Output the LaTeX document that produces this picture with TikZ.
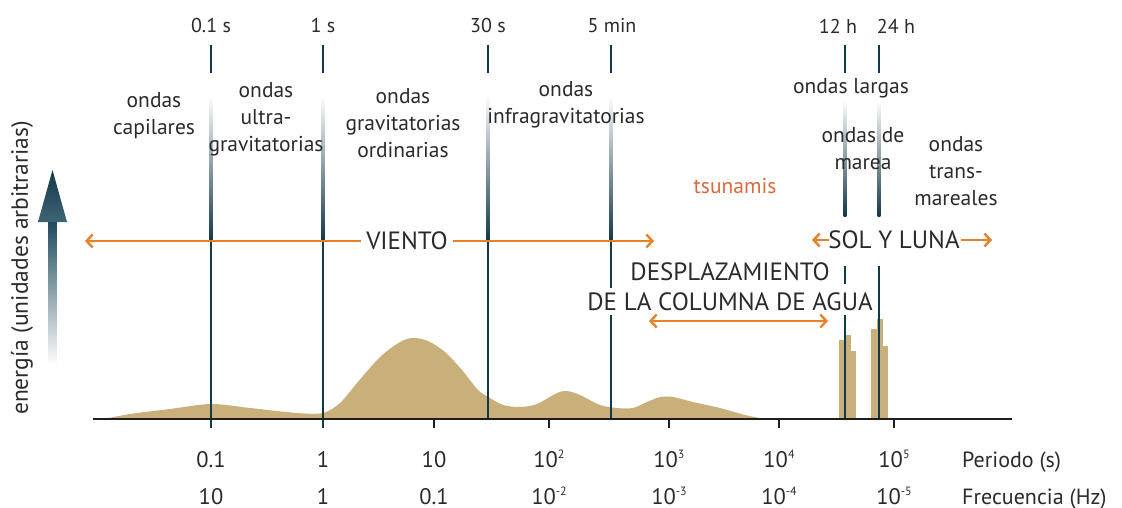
\documentclass[tikz,border=0pt]{standalone}
\usepackage{fontspec}
\setmainfont{PT Sans}
\usetikzlibrary{arrows.meta}
\definecolor{linecol}{HTML}{12394A}
\definecolor{arrcol}{HTML}{1D4A5C}
\definecolor{orng}{HTML}{E8822A}
\definecolor{tsu}{HTML}{D9693F}
\definecolor{sand}{HTML}{C9B07B}
\definecolor{axcol}{HTML}{1E1E1E}
\definecolor{txt}{HTML}{2A2A2A}
\newcommand{\pw}[1]{10\raisebox{0.75ex}{\fontsize{12}{12}\selectfont #1}}
\begin{document}
\begin{tikzpicture}[x=1pt,y=-1pt,
  vl/.style={line width=2.6pt, draw=linecol},
  ax/.style={line width=2.8pt, draw=axcol},
  tk/.style={line width=2.4pt, draw=axcol},
  oarr/.style={line width=2.4pt, draw=orng, arrows={Straight Barb[length=6pt,width=13pt]-Straight Barb[length=6pt,width=13pt]}},
  toplbl/.style={text=txt, font=\fontsize{20}{22}\selectfont, inner sep=0pt},
  wlbl/.style={text=txt, font=\fontsize{21.5}{27}\selectfont, align=center, inner sep=0pt},
  caps/.style={text=txt, font=\fontsize{25}{30}\selectfont, inner sep=0pt},
  num/.style={text=txt, font=\fontsize{22.5}{24}\selectfont, inner sep=0pt, anchor=base},
  axlbl/.style={text=txt, font=\fontsize{22}{24}\selectfont, inner sep=0pt, anchor=base west}
]
\useasboundingbox (0,0) rectangle (1122,508);

% energy curve
\fill[sand] plot[smooth, tension=0.5] coordinates {(104,419) (130,414) (170,409) (211,404) (250,408) (297,413) (323,413) (340,403) (357,383) (380,357) (400,342) (413,338) (428,341) (445,352) (462,370) (478,390) (490,398) (503,405) (520,407) (537,404) (557,393) (567,391) (580,395) (600,405) (617,408) (633,408) (647,402) (660,397) (673,397) (693,402) (720,408) (745,415) (765,419)} -- cycle;
% tidal bars
\fill[sand] (839,419) rectangle (846,340);
\fill[sand] (846,419) rectangle (851,335);
\fill[sand] (851,419) rectangle (856,351);
\fill[sand] (871,419) rectangle (877,329);
\fill[sand] (877,419) rectangle (883,319);
\fill[sand] (883,419) rectangle (888,346);

% vertical lines
\foreach \x in {211,323,488,611}{
  \draw[vl] (\x,45) -- (\x,73);
  \shade[top color=white, bottom color=linecol] (\x-1.3,95) rectangle (\x+1.3,240);
}
\draw[vl] (211,239) -- (211,428);
\draw[vl] (323,239) -- (323,428);
\draw[vl] (488,239) -- (488,419);
\draw[vl] (611,239) -- (611,288);
\draw[vl] (611,315) -- (611,419);
\foreach \x in {845,879}{
  \draw[vl] (\x,45) -- (\x,73);
  \shade[top color=white, bottom color=linecol] (\x-1.3,100) rectangle (\x+1.3,216);
}
\draw[vl] (845,266) -- (845,284);
\draw[vl] (845,315) -- (845,419);
\draw[vl] (879,266) -- (879,419);

% axis and ticks
\draw[ax] (93,419) -- (1012,419);
\foreach \x in {434,549,669,779,894}{ \draw[tk] (\x,419) -- (\x,428); }

% energy arrow
\shade[top color=arrcol, bottom color=white] (48.5,221) rectangle (56.5,365);
\shade[top color=linecol, bottom color=arrcol!85] (52.5,170) -- (67,222) -- (38,222) -- cycle;
\node[rotate=90, text=txt, font=\fontsize{23.5}{25}\selectfont, inner sep=0pt] (ener) at (22,268) {energía (unidades arbitrarias)};

% top labels
\node[toplbl] (p01) at (211,26) {0.1 s};
\node[toplbl] (p1) at (323,26) {1 s};
\node[toplbl] (p30) at (488,26) {30 s};
\node[toplbl] (p5m) at (612,26) {5 min};
\node[toplbl] (p12) at (838,26) {12 h};
\node[toplbl] (p24) at (896,26) {24 h};

% wave labels
\node[wlbl] (cap) at (154,116) {ondas\\capilares};
\node[wlbl] (ultra) at (266,119) {ondas\\ultra-\\gravitatorias};
\node[wlbl] (ord) at (403,123) {ondas\\gravitatorias\\ordinarias};
\node[wlbl] (infra) at (566,105) {ondas\\infragravitatorias};
\node[wlbl] (largas) at (851,88) {ondas largas};
\node[wlbl] (marea) at (863,149) {ondas de\\marea};
\node[wlbl] (trans) at (956,171) {ondas\\trans-\\mareales};
\node[wlbl, text=tsu] (tsun) at (735,186) {tsunamis};

% forcing arrows
\coordinate (vl) at (85,241);
\coordinate (vr) at (654,241);
\draw[oarr] (vl) -- (vr);
\node[caps, fill=white, inner xsep=5pt, inner ysep=2pt] (viento) at (407,241) {VIENTO};

\node[caps] (sol) at (894,240) {SOL Y LUNA};
\coordinate (sl) at (812,240);
\coordinate (sr) at (992,240);
\draw[line width=2.4pt, draw=orng, arrows={-Straight Barb[length=6pt,width=13pt]}] (sol.west) ++(1,0) -- (sl);
\draw[line width=2.4pt, draw=orng, arrows={-Straight Barb[length=6pt,width=13pt]}] (sol.east) ++(1,0) -- (sr);

\node[caps] (desp1) at (730,272) {DESPLAZAMIENTO};
\node[caps] (desp2) at (730,302) {DE LA COLUMNA DE AGUA};
\coordinate (dl) at (649,321);
\coordinate (dr) at (828,321);
\draw[oarr] (dl) -- (dr);

% bottom labels
\node[num] (n1) at (211,467) {0.1};
\node[num] (n2) at (323,467) {1};
\node[num] (n3) at (434,467) {10};
\node[num] (n4) at (549,467) {\pw{2}};
\node[num] (n5) at (669,467) {\pw{3}};
\node[num] (n6) at (779,467) {\pw{4}};
\node[num] (n7) at (894,467) {\pw{5}};
\node[axlbl] (per) at (962,467) {Periodo (s)};
\node[num] (f1) at (211,504) {10};
\node[num] (f2) at (323,504) {1};
\node[num] (f3) at (434,504) {0.1};
\node[num] (f4) at (549,504) {\pw{-2}};
\node[num] (f5) at (669,504) {\pw{-3}};
\node[num] (f6) at (779,504) {\pw{-4}};
\node[num] (f7) at (894,504) {\pw{-5}};
\node[axlbl] (fre) at (962,504) {Frecuencia (Hz)};
\end{tikzpicture}
\end{document}
